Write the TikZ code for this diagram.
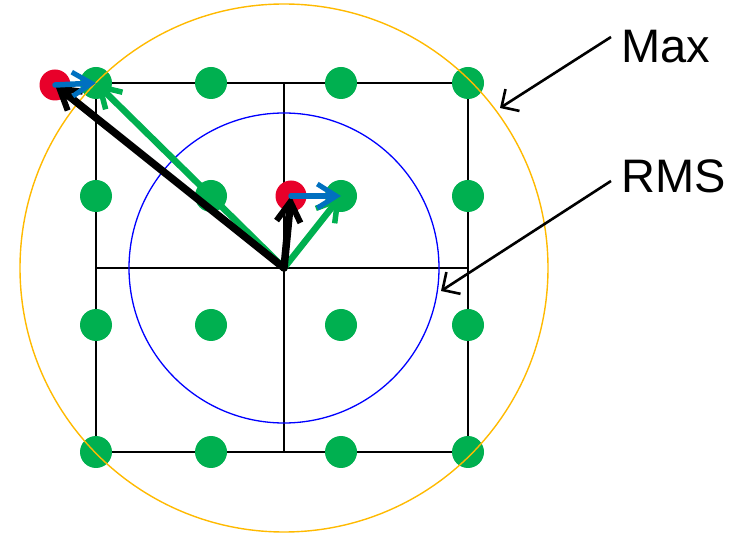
\documentclass[tikz,border=0pt]{standalone}
\usepackage{fontspec}
\setmainfont{Liberation Sans}
\usetikzlibrary{arrows.meta}
\definecolor{dotgreen}{HTML}{00B050}
\definecolor{dotred}{HTML}{E8002A}
\definecolor{arrblue}{HTML}{0070C0}
\definecolor{ringorange}{HTML}{FFBA00}
\begin{document}
\begin{tikzpicture}[x=1pt,y=-1pt,
  gdot/.style={circle,fill=dotgreen,minimum size=32pt,inner sep=0pt},
  rdot/.style={circle,fill=dotred,minimum size=31pt,inner sep=0pt},
  gridline/.style={line width=1.4pt,black},
  kvec/.style={line width=7.5pt,line cap=round,black,-{Straight Barb[length=20pt,width=24pt,line width=6pt]}},
  gvec/.style={line width=6.5pt,line cap=round,dotgreen,-{Straight Barb[length=20pt,width=24pt,line width=5.5pt]}},
  bvec/.style={line width=5.5pt,line cap=round,arrblue,-{Straight Barb[length=19pt,width=24pt,line width=5pt]}},
  callout/.style={line width=2.6pt,black,-{Straight Barb[length=13pt,width=26pt,line width=2.6pt]}},
  lbl/.style={anchor=base west,inner sep=0pt,font=\fontsize{47}{56}\selectfont}]
\useasboundingbox (0,0) rectangle (734,534);
\fill[white] (0,0) rectangle (734,534);
% grid
\draw[gridline] (96,83) rectangle (468,452);
\draw[gridline] (284,83) -- (284,452);
\draw[gridline] (96,268) -- (468,268);
% dots
\foreach \i/\x in {1/96,2/211,3/341,4/468}
  \foreach \j/\y in {1/83,2/196,3/325,4/452}
    \node[gdot] (g\i\j) at (\x,\y) {};
\node[rdot] (r1) at (55,85) {};
\node[rdot] (r2) at (291,196) {};
% circles
\coordinate (c) at (284,268);
\draw[ringorange,line width=1.4pt] (c) circle[radius=264];
\draw[blue,line width=1.3pt] (c) circle[radius=155];
% vectors
\draw[gvec] (c) -- (g11.center);
\draw[gvec] (c) -- (g32.center);
\draw[kvec] (c) -- (r1.center);
\draw[kvec] (c) -- (r2.center);
\draw[bvec] (r1.center) -- (g11.center);
\draw[bvec] (r2.center) -- (g32.center);
% labels
\node[lbl] (max) at (621,63) {Max};
\node[lbl] (rms) at (621,193) {RMS};
\coordinate (maxs) at (611,37);
\coordinate (maxt) at (500,108);
\coordinate (rmss) at (611,181);
\coordinate (rmst) at (441,291);
\draw[callout] (maxs) -- (maxt);
\draw[callout] (rmss) -- (rmst);
\end{tikzpicture}
\end{document}
